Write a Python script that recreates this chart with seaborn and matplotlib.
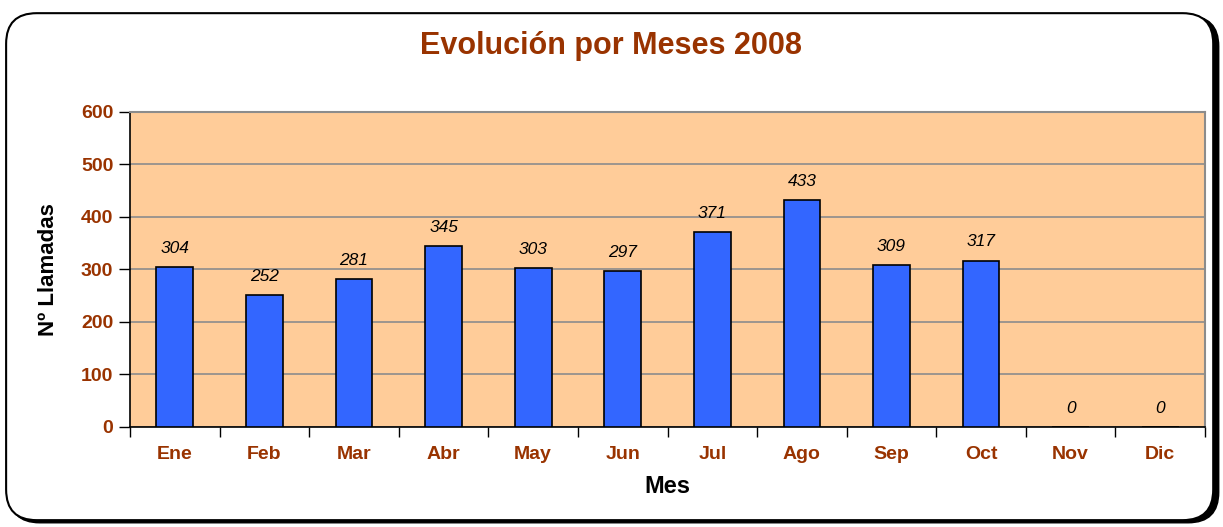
import matplotlib.pyplot as plt
import pandas as pd
import seaborn as sns
from matplotlib.patches import FancyBboxPatch

meses = ['Ene', 'Feb', 'Mar', 'Abr', 'May', 'Jun', 'Jul', 'Ago', 'Sep', 'Oct', 'Nov', 'Dic']
llamadas = [304, 252, 281, 345, 303, 297, 371, 433, 309, 317, 0, 0]
yticks = [0, 100, 200, 300, 400, 500, 600]

df = pd.DataFrame({'Mes': meses, 'Llamadas': llamadas})

sns.set_style('white')
plt.rcParams['font.family'] = ['Liberation Sans', 'DejaVu Sans']

fig = plt.figure(figsize=(12.23, 5.27), dpi=100)

# marco redondeado con sombra
shadow = FancyBboxPatch((0.0075, 0.008), 0.989, 0.962, boxstyle='round,pad=0,rounding_size=0.025',
                        transform=fig.transFigure, facecolor='black', edgecolor='black',
                        mutation_aspect=1223 / 527, zorder=0)
frame = FancyBboxPatch((0.005, 0.013), 0.987, 0.962, boxstyle='round,pad=0,rounding_size=0.025',
                       transform=fig.transFigure, facecolor='white', edgecolor='black', lw=1.5,
                       mutation_aspect=1223 / 527, zorder=0)
fig.patches.extend([shadow, frame])

ax = fig.add_axes([0.1063, 0.1898, 0.879, 0.5977])
ax.set_facecolor('#FFCC99')
ax.set_zorder(1)

sns.barplot(data=df, x='Mes', y='Llamadas', color='#3366FF', edgecolor='black',
            linewidth=1.2, width=0.41, saturation=1, ax=ax, zorder=3)

ax.bar_label(ax.containers[0], labels=[str(v) for v in llamadas], padding=8,
             fontsize=12.5, fontstyle='italic', color='black')

ax.set_ylim(0, 600)
ax.set_xlim(-0.5, 11.5)
ax.set_yticks(yticks)
ax.yaxis.grid(True, color='#8c8c8c', lw=1.2, zorder=0)
ax.set_axisbelow(True)

ax.tick_params(axis='y', which='both', length=8, width=1, direction='out', left=True,
               colors='black', labelcolor='#993300', labelsize=14, pad=4)
for lab in ax.get_yticklabels():
    lab.set_fontweight('bold')

# etiquetas centradas, marcas en los limites de cada categoria
ax.set_xticks(range(12))
ax.set_xticklabels(meses, fontsize=14, fontweight='bold', color='#993300')
ax.tick_params(axis='x', which='major', length=0, pad=14)
ax.set_xticks([i - 0.5 for i in range(13)], minor=True)
ax.tick_params(axis='x', which='minor', length=7, width=1, direction='out', bottom=True, colors='black')

for side in ['top', 'right']:
    ax.spines[side].set_color('#8c8c8c')
    ax.spines[side].set_linewidth(1.5)
for side in ['left', 'bottom']:
    ax.spines[side].set_color('black')
    ax.spines[side].set_linewidth(1.2)

ax.set_xlabel('Mes', fontsize=17, fontweight='bold', color='black', labelpad=8)
ax.set_ylabel('Nº Llamadas', fontsize=16, fontweight='bold', color='black', labelpad=16)

fig.text(0.5, 0.912, 'Evolución por Meses 2008', ha='center', va='center',
         fontsize=22, fontweight='bold', color='#993300')

fig.savefig('out.png', dpi=100)
